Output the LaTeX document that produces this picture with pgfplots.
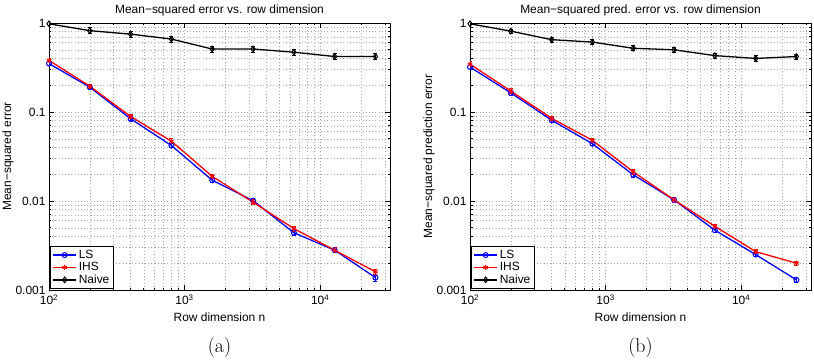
\documentclass[border=0pt]{standalone}
\usepackage{fontspec}
\usepackage{pgfplots}
\pgfplotsset{compat=1.18}
\usepackage{pgfplotstable}
\newfontfamily\hv{Liberation Sans}

% row dimension n, LS / IHS / Naive errors with their spreads
\pgfplotstableread{
n     ls      lse      ihs     ihse     nv    nve
100   0.35    0.020    0.38    0.022    0.98  0.030
200   0.19    0.011    0.195   0.011    0.82  0.060
400   0.084   0.005    0.089   0.005    0.75  0.055
800   0.042   0.0025   0.047   0.0028   0.66  0.050
1600  0.0171  0.0010   0.0189  0.0011   0.51  0.040
3200  0.0101  0.0006   0.0097  0.0006   0.51  0.040
6400  0.0044  0.00028  0.0049  0.0003   0.47  0.037
12800 0.0028  0.00017  0.0028  0.00017  0.42  0.035
25600 0.00138 0.00012  0.0016  0.0001   0.42  0.035
}\msetab

\pgfplotstableread{
n     ls      lse      ihs     ihse     nv    nve
100   0.32    0.018    0.345   0.020    0.98  0.030
200   0.164   0.009    0.172   0.010    0.81  0.045
400   0.081   0.0045   0.085   0.005    0.65  0.040
800   0.044   0.0025   0.048   0.0028   0.61  0.038
1600  0.0197  0.0011   0.0213  0.0012   0.52  0.033
3200  0.0103  0.0006   0.0103  0.0006   0.50  0.032
6400  0.0047  0.00027  0.0052  0.0003   0.43  0.028
12800 0.0025  0.00014  0.0027  0.00015  0.40  0.026
25600 0.0013  0.00007  0.0020  0.00011  0.42  0.027
}\msptab

\newcommand\hvfont{\hv\fontsize{12}{14}\selectfont}

\pgfplotsset{
  errstyle/.style={
    error bars/.cd, y dir=both, y explicit,
    error mark options={rotate=90, mark size=2bp, line width=1bp}},
  lsplot/.style={blue, line width=1.3bp, mark=o, mark size=2.5bp,
    mark options={solid, line width=1bp}, errstyle},
  ihsplot/.style={red, line width=1.3bp, mark=asterisk, mark size=2.6bp,
    mark options={solid, line width=1bp}, errstyle},
  nvplot/.style={black, line width=1.3bp, mark=diamond, mark size=2.8bp,
    mark options={solid, line width=1bp}, errstyle},
}

\begin{document}
\begin{tikzpicture}
\useasboundingbox (-49bp,-70bp) rectangle (765bp,290bp);

\pgfplotsset{
  scale only axis, width=341bp, height=267bp,
  xmin=100, xmax=32768, ymin=0.001, ymax=1,
  xtick={100,1000,10000},
  xticklabels={10\textsuperscript{2},10\textsuperscript{3},10\textsuperscript{4}},
  minor xtick={200,300,400,500,600,700,800,900,2000,3000,4000,5000,6000,7000,8000,9000,20000,30000},
  ytick={0.001,0.01,0.1,1},
  yticklabels={0.001,0.01,0.1,1},
  minor ytick={0.002,0.003,0.004,0.005,0.006,0.007,0.008,0.009,0.02,0.03,0.04,0.05,0.06,0.07,0.08,0.09,0.2,0.3,0.4,0.5,0.6,0.7,0.8,0.9},
  grid=both,
  major grid style={gray!70, line width=0.5bp, dash pattern=on 1bp off 2.2bp},
  minor grid style={gray!70, line width=0.5bp, dash pattern=on 1bp off 2.2bp},
  tick align=inside, major tick length=5bp, minor tick length=2.5bp,
  every tick/.style={black, line width=0.6bp},
  axis line style={line width=1bp},
  tick label style={font=\hvfont},
  xticklabel style={yshift=-1bp},
  every axis title/.style={at={(axis description cs:0.5,1.049)}, anchor=center, font=\hvfont},
  every axis x label/.style={at={(axis description cs:0.5,-0.101)}, anchor=center, font=\hvfont},
  every axis y label/.style={at={(axis description cs:-0.12,0.5)}, anchor=center, rotate=90, font=\hvfont},
  legend style={at={(axis description cs:0.003,0.004)}, anchor=south west,
    draw=black, line width=1bp, fill=white, font=\hvfont,
    inner xsep=2bp, inner ysep=1.5bp, row sep=-1.5bp},
  legend cell align=left,
  legend image code/.code={
    \draw[mark repeat=2, mark phase=2]
      plot coordinates {(0bp,0bp) (11.5bp,0bp) (23bp,0bp)};},
}

\begin{loglogaxis}[at={(0,0)}, anchor=south west,
  title={Mean−squared error vs. row dimension},
  xlabel={Row dimension n},
  ylabel={Mean−squared error}]
  \addplot[lsplot] table[x=n, y=ls, y error=lse] {\msetab};
  \addplot[ihsplot] table[x=n, y=ihs, y error=ihse] {\msetab};
  \addplot[nvplot] table[x=n, y=nv, y error=nve] {\msetab};
  \legend{LS, IHS, Naive}
\end{loglogaxis}

\begin{loglogaxis}[at={(421bp,0)}, anchor=south west,
  title={Mean−squared pred. error vs. row dimension},
  xlabel={Row dimension n},
  ylabel={Mean−squared prediction error}]
  \addplot[lsplot] table[x=n, y=ls, y error=lse] {\msptab};
  \addplot[ihsplot] table[x=n, y=ihs, y error=ihse] {\msptab};
  \addplot[nvplot] table[x=n, y=nv, y error=nve] {\msptab};
  \legend{LS, IHS, Naive}
\end{loglogaxis}

% sub-figure captions below each panel
\node[font=\fontsize{20}{22}\selectfont, anchor=center] at (170.5bp,-58bp) {(a)};
\node[font=\fontsize{20}{22}\selectfont, anchor=center] at (591.5bp,-58bp) {(b)};
\end{tikzpicture}
\end{document}
